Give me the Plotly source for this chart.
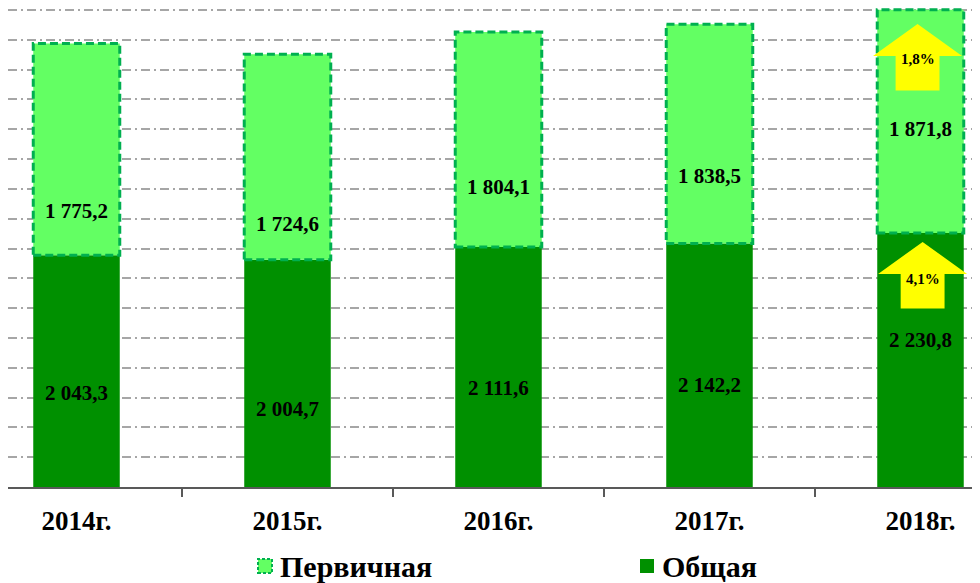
import plotly.graph_objects as go

# ---- data ----
years = ["2014г.", "2015г.", "2016г.", "2017г.", "2018г."]
obshchaya = [2043.3, 2004.7, 2111.6, 2142.2, 2230.8]      # Общая
pervichnaya = [1775.2, 1724.6, 1804.1, 1838.5, 1871.8]    # Первичная
growth_labels = {"pervichnaya": "1,8%", "obshchaya": "4,1%"}
series_names = {"pervichnaya": "Первичная", "obshchaya": "Общая"}

# ---- styles / positions (not data) ----
DARK = "#009000"
LIGHT = "#63ff63"
EDGE = "#00b050"
FONT = "Liberation Serif"
BAR_W = 0.41
W, H = 980, 583
ML, MR, MT, MB = 0, 0, 0, 104
PW, PH = W - ML - MR, H - MT - MB
K = 0.11925            # pixels per unit on the value axis
Y0 = 100
Y1 = Y0 + PH / K
CAT_PX, C0 = 211, 68.5  # category spacing and first category centre (px)
# vertical pixel shifts of value labels from bar centres
dark_shift = [-22, -36, -21, -20, 20]
light_shift = [-62, -67, -47, -42, -8]


def fmt(v):
    return f"{v:,.1f}".replace(",", " ").replace(".", ",")


def px_x(p):  # figure pixel -> paper x
    return (p - ML) / PW


def px_y(p):  # figure pixel -> paper y
    return (H - MB - p) / PH


x = list(range(len(years)))
fig = go.Figure()
fig.add_trace(go.Bar(x=x, y=obshchaya, base=[0] * len(x), name=series_names["obshchaya"],
                     marker=dict(color=DARK, line=dict(width=0)), width=BAR_W,
                     showlegend=False))
fig.add_trace(go.Bar(x=x, y=pervichnaya, base=obshchaya, name=series_names["pervichnaya"],
                     marker=dict(color=LIGHT, line=dict(width=0)), width=BAR_W,
                     showlegend=False))

label_font = dict(family=FONT, size=21, color="black", weight="bold")
shapes = []
annotations = []
for i in x:
    d, p = obshchaya[i], pervichnaya[i]
    shapes.append(dict(type="rect", xref="x", yref="y",
                       x0=i - BAR_W / 2, x1=i + BAR_W / 2, y0=d, y1=d + p,
                       line=dict(color=EDGE, width=3, dash="8px,4px"),
                       fillcolor="rgba(0,0,0,0)", layer="above"))
    annotations.append(dict(x=i, y=(Y0 + d) / 2, text=fmt(d), showarrow=False,
                            yshift=dark_shift[i], font=label_font))
    annotations.append(dict(x=i, y=d + p / 2, text=fmt(p), showarrow=False,
                            yshift=light_shift[i], font=label_font))


# yellow growth arrows on the last bar
def arrow(xc, tip, head_base, bottom, hw=0.211, sw=0.104):
    return (f"M {xc} {tip} L {xc + hw} {head_base} L {xc + sw} {head_base} "
            f"L {xc + sw} {bottom} L {xc - sw} {bottom} L {xc - sw} {head_base} "
            f"L {xc - hw} {head_base} Z")


last = len(x) - 1
top_total = obshchaya[last] + pervichnaya[last]
for tip, dx, lab_off, label in [(top_total - 120, -0.014, 22, growth_labels["pervichnaya"]),
                                (obshchaya[last] - 76, 0.01, 45, growth_labels["obshchaya"])]:
    head_base = tip - 268
    bottom = tip - 557
    shapes.append(dict(type="path", xref="x", yref="y",
                       path=arrow(last + dx, tip, head_base, bottom),
                       fillcolor="#ffff00", line=dict(width=0), layer="above"))
    annotations.append(dict(x=last + dx, y=head_base - lab_off, text=label, showarrow=False,
                            font=dict(family=FONT, size=15, color="black", weight="bold")))

# manual legend (allows the dashed icon border)
legend_font = dict(family=FONT, size=30, color="black", weight="bold")
leg_y = 558
for icon_x, key, fill, dash in [(250, "pervichnaya", LIGHT, "3px,2px"),
                                (632, "obshchaya", DARK, None)]:
    line = dict(color=EDGE, width=2, dash=dash) if dash else dict(width=0)
    shapes.append(dict(type="rect", xref="paper", yref="paper",
                       x0=px_x(icon_x), x1=px_x(icon_x + 14),
                       y0=px_y(leg_y + 7), y1=px_y(leg_y - 7),
                       fillcolor=fill, line=line, layer="above"))
    annotations.append(dict(xref="paper", yref="paper", x=px_x(icon_x + 20),
                            y=px_y(leg_y), xanchor="left", yanchor="middle",
                            text=series_names[key], showarrow=False, font=legend_font))

fig.update_layout(
    width=W, height=H,
    margin=dict(l=ML, r=MR, t=MT, b=MB),
    barmode="overlay",
    plot_bgcolor="white", paper_bgcolor="white",
    shapes=shapes, annotations=annotations,
    showlegend=False,
)
fig.update_xaxes(
    range=[(0 - C0) / CAT_PX, (PW - C0) / CAT_PX],
    tickvals=x, ticktext=years, ticks="",
    showgrid=False, zeroline=False,
    showline=True, linecolor="#595959", linewidth=1.5,
    tickfont=dict(family=FONT, size=27, color="black", weight="bold"),
    ticklabelstandoff=9,
    minor=dict(tickvals=[i + 0.5 for i in x[:-1]], ticks="outside",
               ticklen=8, tickcolor="#595959", tickwidth=1.5, showgrid=False),
)
fig.update_yaxes(
    range=[Y0, Y1], tick0=Y0, dtick=250, showticklabels=False, ticks="",
    showgrid=True, gridcolor="#a6a6a6", gridwidth=1.5, griddash="9px,4px,2px,4px",
    zeroline=False, showline=False,
)
fig.write_html("out.html")
